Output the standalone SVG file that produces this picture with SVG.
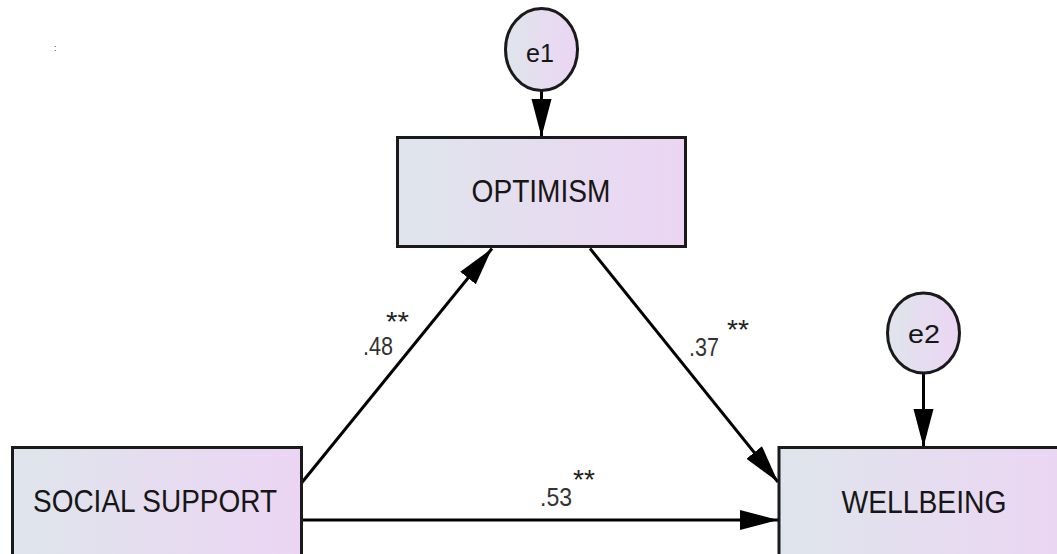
<svg xmlns="http://www.w3.org/2000/svg" width="1057" height="554" viewBox="0 0 1057 554">
  <defs>
    <linearGradient id="fill" x1="0" y1="0" x2="1" y2="0">
      <stop offset="0" stop-color="#dfe5ec"/>
      <stop offset="1" stop-color="#ecd5f3"/>
    </linearGradient>
    <marker id="arrow" markerUnits="userSpaceOnUse" markerWidth="40" markerHeight="22" refX="38" refY="10" orient="auto">
      <path d="M0,0 L38,10 L0,20 Z" fill="#000"/>
    </marker>
    <style>
      .box { fill: url(#fill); stroke: #1a1a1a; stroke-width: 3; }
      .lbl { font-family: "Liberation Sans", Arial, sans-serif; font-size: 28px; fill: #161616; text-anchor: middle; }
      .err { font-family: "Liberation Sans", Arial, sans-serif; font-size: 25px; fill: #161616; text-anchor: middle; }
      .coef { font-family: "Liberation Sans", Arial, sans-serif; font-size: 25px; fill: #333; }
      .star { font-family: "Liberation Sans", Arial, sans-serif; font-size: 28px; fill: #222; }
      .conn { stroke: #000; stroke-width: 3; fill: none; marker-end: url(#arrow); }
    </style>
  </defs>
  <rect width="1057" height="554" fill="#fff"/>
  <text x="54" y="51" font-family="Liberation Sans, Arial, sans-serif" font-size="9" fill="#333">:</text>

  <g id="connectors">
    <line class="conn" x1="541.5" y1="91" x2="541.5" y2="137"/>
    <line class="conn" x1="923.5" y1="373" x2="923.5" y2="447"/>
    <line class="conn" x1="301.5" y1="483" x2="492" y2="248.5"/>
    <line class="conn" x1="590" y1="248.5" x2="778" y2="482"/>
    <line class="conn" x1="302" y1="520" x2="778" y2="520"/>
  </g>

  <g id="node-optimism">
    <rect class="box" x="397.5" y="137.5" width="288" height="109"/>
    <text class="lbl" transform="translate(541 202) scale(1 1.13)" textLength="139" lengthAdjust="spacingAndGlyphs">OPTIMISM</text>
  </g>
  <g id="node-social-support">
    <rect class="box" x="12.5" y="447.5" width="289" height="120"/>
    <text class="lbl" transform="translate(155 512) scale(1 1.13)" textLength="244" lengthAdjust="spacingAndGlyphs">SOCIAL SUPPORT</text>
  </g>
  <g id="node-wellbeing">
    <rect class="box" x="779" y="447.5" width="300" height="120"/>
    <text class="lbl" transform="translate(924 512.5) scale(1 1.13)" textLength="165" lengthAdjust="spacingAndGlyphs">WELLBEING</text>
  </g>
  <g id="node-e1">
    <ellipse class="box" cx="541.5" cy="49.5" rx="36" ry="41"/>
    <text class="err" transform="translate(540 62) scale(1 1.05)" textLength="28" lengthAdjust="spacingAndGlyphs">e1</text>
  </g>
  <g id="node-e2">
    <ellipse class="box" cx="923.5" cy="333" rx="36" ry="40"/>
    <text class="err" transform="translate(924 343) scale(1 1.05)" textLength="32" lengthAdjust="spacingAndGlyphs">e2</text>
  </g>

  <g id="labels">
    <text class="coef" x="363" y="355" textLength="30" lengthAdjust="spacingAndGlyphs">.48</text>
    <text class="star" x="386" y="331" textLength="23" lengthAdjust="spacingAndGlyphs">**</text>
    <text class="coef" x="689" y="356" textLength="30" lengthAdjust="spacingAndGlyphs">.37</text>
    <text class="star" x="727" y="339" textLength="22" lengthAdjust="spacingAndGlyphs">**</text>
    <text class="coef" x="540" y="506" textLength="32" lengthAdjust="spacingAndGlyphs">.53</text>
    <text class="star" x="573" y="489" textLength="22" lengthAdjust="spacingAndGlyphs">**</text>
  </g>
</svg>
